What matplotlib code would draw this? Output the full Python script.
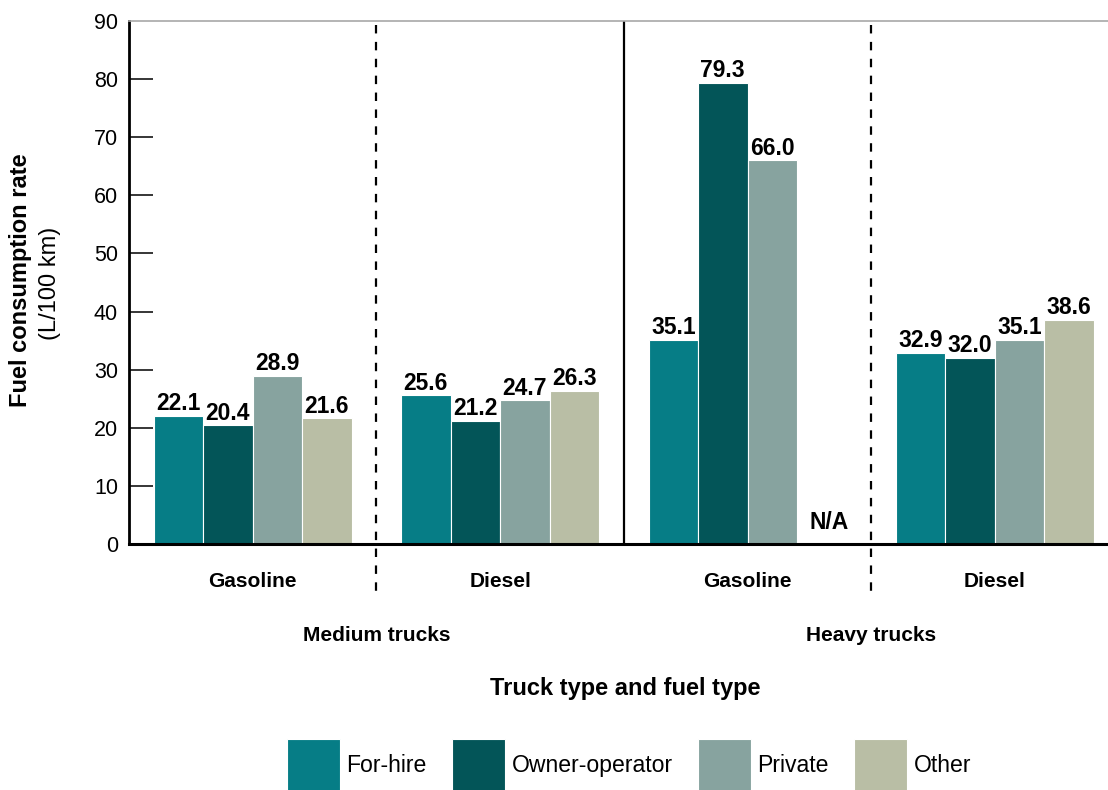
import numpy as np
import matplotlib
matplotlib.use("Agg")
import matplotlib.pyplot as plt
from matplotlib.transforms import blended_transform_factory

plt.rcParams['font.family'] = ['Liberation Sans', 'DejaVu Sans']

# Data: fuel consumption rate (L/100 km)
groups = ["Gasoline", "Diesel", "Gasoline", "Diesel"]
truck_types = ["Medium trucks", "Heavy trucks"]
series_names = ["For-hire", "Owner-operator", "Private", "Other"]
for_hire = [22.1, 25.6, 35.1, 32.9]
owner_operator = [20.4, 21.2, 79.3, 32.0]
private = [28.9, 24.7, 66.0, 35.1]
other = [21.6, 26.3, np.nan, 38.6]
y_ticks = [0, 10, 20, 30, 40, 50, 60, 70, 80, 90]

colors = ["#067d86", "#035558", "#87a39f", "#b9bea5"]
series = [for_hire, owner_operator, private, other]

W, H = 1108, 790
fig = plt.figure(figsize=(W / 100, H / 100), dpi=100)
ax = fig.add_axes([129 / W, (H - 544) / H, (W - 129) / W, 523 / H])

x = np.arange(len(groups))
bar_w = 0.2
offsets = [-0.3, -0.1, 0.1, 0.3]

for vals, off, col, name in zip(series, offsets, colors, series_names):
    vals = np.asarray(vals, dtype=float)
    ax.bar(x + off, np.nan_to_num(vals), width=bar_w, color=col,
           edgecolor="white", linewidth=0.8, label=name, zorder=2)
    for xi, v in zip(x + off, vals):
        if np.isnan(v):
            ax.annotate("N/A", (xi, 0), xytext=(5, 7), textcoords="offset points",
                        ha="center", va="bottom", fontsize=16.5, fontweight="bold")
        else:
            ax.annotate(f"{v:.1f}", (xi, v), xytext=(0, 0.5), textcoords="offset points",
                        ha="center", va="bottom", fontsize=16.5, fontweight="bold")

ax.set_xlim(-0.5, 3.457)
ax.set_ylim(0, 90)
ax.set_yticks(y_ticks)
ax.tick_params(axis="y", direction="in", length=17, width=1.1, pad=8,
               labelsize=15.5, colors="black")
ax.yaxis.get_major_ticks()[-1].tick1line.set_visible(False)

ax.set_xticks(x)
ax.set_xticklabels(groups, fontsize=15, fontweight="bold")
ax.tick_params(axis="x", length=0, pad=20)

ax.spines["right"].set_visible(False)
ax.spines["top"].set_color("#a8a8a8")
ax.spines["top"].set_linewidth(1.2)
ax.spines["left"].set_linewidth(2.0)
ax.spines["bottom"].set_linewidth(2.2)
ax.spines["bottom"].set_zorder(3)

# Separators between fuel types (dashed) and truck types (solid)
tr = blended_transform_factory(ax.transData, ax.transAxes)
for xs in [0.5, 2.5]:
    ax.plot([xs, xs], [0.992, -0.092], transform=tr, color="black", lw=1.6,
            dashes=(3.8, 3.8), clip_on=False, zorder=1)
ax.plot([1.5, 1.5], [0, 1], transform=tr, color="black", lw=1.6, zorder=1)

for xs, name in zip([0.5, 2.5], truck_types):
    ax.text(xs, -0.174, name, transform=tr, ha="center", va="center",
            fontsize=15, fontweight="bold")

fig.text(625 / W, (H - 689) / H, "Truck type and fuel type", ha="center",
         va="center", fontsize=17, fontweight="bold")

fig.text(21 / W, (H - 280) / H, "Fuel consumption rate", rotation=90,
         ha="center", va="center", fontsize=17, fontweight="bold")
fig.text(50 / W, (H - 283) / H, "(L/100 km)", rotation=90,
         ha="center", va="center", fontsize=17)

fs_leg = 16.6
px = fs_leg * 100 / 72
hh = (53 / px - 0.245) / 0.65
fig.legend(loc="center left", bbox_to_anchor=(287 / W, (H - 765) / H),
           ncol=4, frameon=False, fontsize=fs_leg, borderpad=0,
           handlelength=53 / px, handleheight=hh,
           handletextpad=0.28, columnspacing=1.1, borderaxespad=0)

fig.savefig("out.png", dpi=100)
